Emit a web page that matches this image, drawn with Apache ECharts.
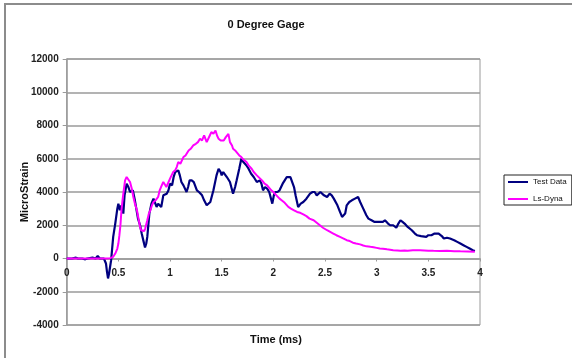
<!DOCTYPE html>
<html>
<head>
<meta charset="utf-8">
<script src="https://cdn.jsdelivr.net/npm/echarts@6/dist/echarts.min.js"></script>
<style>
  html, body { margin: 0; padding: 0; background: #fff; }
  #main { width: 572px; height: 358px; }
</style>
</head>
<body>
<div id="main"></div>
<script>
// time (ms) and strain
const testTime = [0, 0.05, 0.09, 0.1, 0.11, 0.15, 0.18, 0.2, 0.25, 0.28, 0.3, 0.32, 0.36, 0.38, 0.39, 0.4, 0.41, 0.43,
    0.45, 0.47, 0.49, 0.5, 0.515, 0.53, 0.548, 0.56, 0.58, 0.597, 0.613, 0.64, 0.66, 0.69, 0.71, 0.726, 0.745, 0.758,
    0.77, 0.78, 0.8, 0.82, 0.84, 0.855, 0.87, 0.885, 0.9, 0.915, 0.935, 0.95, 0.968, 0.985, 1.0, 1.02, 1.035, 1.05,
    1.065, 1.08, 1.095, 1.11, 1.13, 1.16, 1.175, 1.19, 1.21, 1.23, 1.26, 1.28, 1.31, 1.33, 1.355, 1.37, 1.39, 1.42,
    1.45, 1.47, 1.49, 1.5, 1.515, 1.53, 1.55, 1.58, 1.61, 1.63, 1.645, 1.67, 1.69, 1.71, 1.72, 1.74, 1.76, 1.785,
    1.81, 1.84, 1.87, 1.885, 1.9, 1.92, 1.94, 1.96, 1.975, 1.99, 2.005, 2.02, 2.04, 2.06, 2.09, 2.11, 2.13, 2.145,
    2.165, 2.18, 2.2, 2.215, 2.24, 2.265, 2.29, 2.32, 2.355, 2.38, 2.4, 2.42, 2.435, 2.455, 2.47, 2.49, 2.52, 2.545,
    2.565, 2.585, 2.6, 2.62, 2.645, 2.665, 2.68, 2.695, 2.71, 2.735, 2.76, 2.79, 2.82, 2.84, 2.87, 2.9, 2.92, 2.95,
    2.98, 3.0, 3.03, 3.06, 3.08, 3.11, 3.13, 3.16, 3.19, 3.21, 3.23, 3.25, 3.27, 3.3, 3.34, 3.37, 3.39, 3.43, 3.48,
    3.5, 3.53, 3.56, 3.6, 3.63, 3.65, 3.68, 3.71, 3.75, 3.78, 3.81, 3.84, 3.87, 3.9, 3.93, 3.95];
const testStrain = [0, 0, 50, 150, 0, 0, -50, 0, 50, 0, 150, 0, 0, -300, -800, -1200, -900, -100,
    1300, 2100, 3000, 3300, 2900, 3200, 2700, 3800, 4500, 4300, 4000, 4100, 3500, 2400, 2000, 1500, 1000, 660,
    900, 1300, 2700, 3300, 3600, 3500, 3100, 3300, 3300, 3100, 3800, 3700, 3900, 4100, 4500, 4400, 4900, 5200,
    5300, 5300, 5000, 4600, 4400, 4000, 4300, 4700, 4700, 4600, 4100, 4000, 3800, 3500, 3200, 3100, 3400, 4100,
    5000, 5400, 5200, 5000, 5200, 5200, 4900, 4600, 3900, 4300, 4700, 5400, 6000, 5800, 5700, 5600, 5400, 5100,
    4900, 4600, 4700, 4500, 4100, 4300, 4200, 4000, 3900, 3300, 3800, 4000, 4000, 4100, 4500, 4700, 4900, 5000,
    4900, 4900, 4300, 3800, 3100, 3300, 3400, 3600, 3900, 4000, 4000, 3800, 3900, 4000, 4050, 3800, 3700, 3900,
    3800, 3600, 3500, 3200, 2800, 2500, 2400, 2700, 3200, 3400, 3500, 3600, 3700, 3400, 3000, 2600, 2400, 2300,
    2200, 2200, 2200, 2200, 2300, 2100, 2000, 2000, 1850, 2100, 2300, 2200, 2100, 1900, 1700, 1500, 1400, 1350, 1300,
    1400, 1400, 1500, 1500, 1350, 1200, 1250, 1200, 1100, 1000, 900, 800, 700, 600, 500, 450];

const dynaTime = [0, 0.1, 0.2, 0.3, 0.38, 0.42, 0.45, 0.47, 0.48, 0.49, 0.5, 0.51, 0.52, 0.53, 0.54, 0.55, 0.565,
    0.58, 0.595, 0.613, 0.63, 0.645, 0.66, 0.68, 0.695, 0.71, 0.72, 0.735, 0.75, 0.76, 0.78, 0.795, 0.81, 0.825,
    0.84, 0.86, 0.885, 0.9, 0.92, 0.935, 0.95, 0.965, 0.98, 1.0, 1.016, 1.03, 1.05, 1.065, 1.08, 1.1, 1.13, 1.15,
    1.18, 1.2, 1.225, 1.25, 1.27, 1.29, 1.31, 1.33, 1.34, 1.355, 1.37, 1.385, 1.4, 1.42, 1.44, 1.455, 1.47, 1.49,
    1.52, 1.54, 1.565, 1.58, 1.6, 1.61, 1.63, 1.645, 1.67, 1.69, 1.71, 1.74, 1.76, 1.79, 1.81, 1.84, 1.865, 1.89,
    1.915, 1.94, 1.96, 1.98, 2.0, 2.03, 2.06, 2.08, 2.11, 2.145, 2.17, 2.2, 2.23, 2.26, 2.29, 2.32, 2.35, 2.39,
    2.42, 2.45, 2.48, 2.52, 2.55, 2.58, 2.61, 2.645, 2.68, 2.71, 2.74, 2.77, 2.8, 2.84, 2.87, 2.9, 2.94, 2.97, 3.0,
    3.03, 3.06, 3.1, 3.13, 3.16, 3.2, 3.23, 3.27, 3.3, 3.35, 3.42, 3.5, 3.55, 3.61, 3.68, 3.75, 3.81, 3.88, 3.95];
const dynaStrain = [0, 0, 0, 0, 0, 20, 100, 300, 400, 600, 900, 1400, 2000, 2900, 3500, 4000, 4700,
    4900, 4800, 4600, 4200, 3700, 3300, 2900, 2400, 1900, 1700, 1600, 1650, 1800, 2300, 2700, 2900, 3200,
    3400, 3500, 3700, 4100, 4400, 4600, 4600, 4300, 4200, 4800, 4800, 5200, 5300, 5500, 5800, 5700, 6100, 6200,
    6500, 6600, 6800, 6900, 7000, 7200, 7100, 7400, 7500, 7000, 7100, 7400, 7600, 7500, 7700, 7400, 7200, 7100,
    7100, 7300, 7500, 7000, 6800, 6600, 6500, 6400, 6200, 6100, 5950, 5800, 5600, 5400, 5200, 5000, 4850, 4700,
    4500, 4400, 4250, 4100, 4000, 3800, 3600, 3500, 3350, 3100, 3000, 2900, 2800, 2750, 2650, 2550, 2400, 2300,
    2150, 2000, 1850, 1700, 1600, 1500, 1400, 1300, 1200, 1100, 1050, 950, 900, 850, 780, 730, 700, 680, 640,
    600, 590, 550, 530, 500, 480, 460, 480, 470, 500, 490, 470, 460, 450, 460, 440, 430, 420, 400];

const seriesNames = ['Test Data', 'Ls-Dyna'];
const yTicks = { min: -4000, max: 12000, step: 2000 };
const xTicks = { min: 0, max: 4, step: 0.5 };

const zip = (xs, ys) => xs.map((x, i) => [x, ys[i]]);

const chart = echarts.init(document.getElementById('main'));
const font = 'Liberation Sans, Arial, sans-serif';

const gridTop = 59, gridBottom = 33;
const plotH = 358 - gridTop - gridBottom;
// move the x axis up to the y = 0 line (Excel draws it there)
const zeroOffset = -plotH * (0 - yTicks.min) / (yTicks.max - yTicks.min);

chart.setOption({
    backgroundColor: '#fff',
    animation: false,
    textStyle: { fontFamily: font },
    graphic: [
        { type: 'rect', shape: { x: 5, y: 4, width: 600, height: 400 },
          style: { fill: 'none', stroke: '#8c8c8c', lineWidth: 2 }, silent: true },
        { type: 'text', x: 266, y: 19,
          style: { text: '0 Degree Gage', font: 'bold 11px ' + font, fill: '#111', textAlign: 'center' } },
        { type: 'text', x: 276, y: 334,
          style: { text: 'Time (ms)', font: 'bold 11px ' + font, fill: '#111', textAlign: 'center' } }
    ],
    grid: {
        left: 66.7, right: 92, top: gridTop, bottom: gridBottom,
        show: true, borderColor: '#9a9a9a', borderWidth: 1
    },
    legend: {
        orient: 'vertical',
        left: 504, top: 175,
        icon: 'rect',
        itemWidth: 20, itemHeight: 2, itemGap: 9,
        padding: [3, 5, 2, 4],
        borderColor: '#222', borderWidth: 1,
        textStyle: { fontSize: 8, color: '#111' },
        data: seriesNames
    },
    xAxis: {
        type: 'value',
        min: xTicks.min, max: xTicks.max, interval: xTicks.step,
        offset: zeroOffset,
        axisLine: { onZero: false, lineStyle: { color: '#9a9a9a', width: 1.5 } },
        axisTick: { length: 3, lineStyle: { color: '#9a9a9a' } },
        axisLabel: { fontSize: 10, fontWeight: 'bold', color: '#222', margin: 10 },
        splitLine: { show: false }
    },
    yAxis: {
        type: 'value',
        min: yTicks.min, max: yTicks.max, interval: yTicks.step,
        name: 'MicroStrain', nameLocation: 'middle', nameGap: 36, nameMoveOverlap: false,
        nameTextStyle: { fontSize: 11, fontWeight: 'bold', color: '#111' },
        axisLine: { show: true, onZero: false, lineStyle: { color: '#9a9a9a', width: 1.5 } },
        axisTick: { show: true, length: 4, lineStyle: { color: '#9a9a9a' } },
        axisLabel: { fontSize: 10, fontWeight: 'bold', color: '#222', margin: 8,
                     formatter: v => String(v) },
        splitLine: { lineStyle: { color: '#9a9a9a', width: 1.5 } }
    },
    series: [
        {
            name: seriesNames[0], type: 'line', symbol: 'none',
            lineStyle: { color: '#000080', width: 2.2 }, itemStyle: { color: '#000080' },
            data: zip(testTime, testStrain), z: 3
        },
        {
            name: seriesNames[1], type: 'line', symbol: 'none',
            lineStyle: { color: '#ff00ff', width: 2 }, itemStyle: { color: '#ff00ff' },
            data: zip(dynaTime, dynaStrain), z: 4
        }
    ]
});
</script>
</body>
</html>
